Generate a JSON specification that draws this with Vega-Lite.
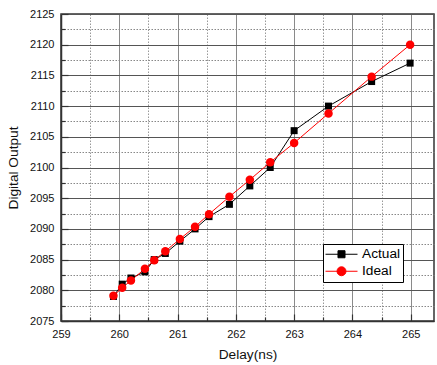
{
  "$schema": "https://vega.github.io/schema/vega-lite/v6.json",
  "width": 373,
  "height": 307,
  "autosize": {"type": "none"},
  "padding": {"left": 61, "top": 14, "right": 3, "bottom": 44},
  "background": "white",
  "config": {
    "font": "Liberation Sans",
    "view": {"stroke": "#333", "strokeWidth": 1.5},
    "axis": {
      "labelFont": "Liberation Sans",
      "titleFont": "Liberation Sans",
      "labelFontSize": 11,
      "titleFontSize": 13.7,
      "titleFontWeight": "normal",
      "labelColor": "#111",
      "titleColor": "#111",
      "domainColor": "#333",
      "domainWidth": 1.5,
      "tickColor": "#333",
      "tickWidth": 1.2
    }
  },
  "data": {
    "values": [
      {"series": "Actual", "delay": 259.90, "output": 2079},
      {"series": "Actual", "delay": 260.05, "output": 2081},
      {"series": "Actual", "delay": 260.20, "output": 2082},
      {"series": "Actual", "delay": 260.44, "output": 2083},
      {"series": "Actual", "delay": 260.60, "output": 2085},
      {"series": "Actual", "delay": 260.79, "output": 2086},
      {"series": "Actual", "delay": 261.04, "output": 2088},
      {"series": "Actual", "delay": 261.30, "output": 2090},
      {"series": "Actual", "delay": 261.54, "output": 2092},
      {"series": "Actual", "delay": 261.89, "output": 2094},
      {"series": "Actual", "delay": 262.24, "output": 2097},
      {"series": "Actual", "delay": 262.59, "output": 2100},
      {"series": "Actual", "delay": 263.00, "output": 2106},
      {"series": "Actual", "delay": 263.59, "output": 2110},
      {"series": "Actual", "delay": 264.33, "output": 2114},
      {"series": "Actual", "delay": 264.99, "output": 2117},
      {"series": "Ideal", "delay": 259.90, "output": 2079.1},
      {"series": "Ideal", "delay": 260.05, "output": 2080.4},
      {"series": "Ideal", "delay": 260.20, "output": 2081.6},
      {"series": "Ideal", "delay": 260.44, "output": 2083.5},
      {"series": "Ideal", "delay": 260.60, "output": 2084.9},
      {"series": "Ideal", "delay": 260.79, "output": 2086.35},
      {"series": "Ideal", "delay": 261.04, "output": 2088.35},
      {"series": "Ideal", "delay": 261.30, "output": 2090.35},
      {"series": "Ideal", "delay": 261.54, "output": 2092.4},
      {"series": "Ideal", "delay": 261.89, "output": 2095.25},
      {"series": "Ideal", "delay": 262.24, "output": 2098.0},
      {"series": "Ideal", "delay": 262.59, "output": 2100.85},
      {"series": "Ideal", "delay": 263.00, "output": 2104.0},
      {"series": "Ideal", "delay": 263.59, "output": 2108.8},
      {"series": "Ideal", "delay": 264.33, "output": 2114.8},
      {"series": "Ideal", "delay": 264.99, "output": 2120.0}
    ]
  },
  "encoding": {
    "x": {
      "field": "delay", "type": "quantitative",
      "scale": {"domain": [259, 265.4], "nice": false, "zero": false},
      "axis": {
        "title": "Delay(ns)",
        "values": [259, 259.5, 260, 260.5, 261, 261.5, 262, 262.5, 263, 263.5, 264, 264.5, 265],
        "format": ".0f",
        "labelExpr": "datum.value % 1 === 0 ? datum.label : ''",
        "grid": true,
        "gridColor": {"condition": {"test": "datum.value % 1 !== 0", "value": "#999"}, "value": "#8a8a8a"},
        "gridDash": {"condition": {"test": "datum.value % 1 !== 0", "value": [1.5, 1.5]}, "value": []},
        "gridWidth": 1,
        "tickSize": {"condition": {"test": "datum.value % 1 !== 0", "value": -4}, "value": -7},
        "labelPadding": 14,
        "titlePadding": 8,
        "labelFlush": false
      }
    },
    "y": {
      "field": "output", "type": "quantitative",
      "scale": {"domain": [2075, 2125], "nice": false, "zero": false},
      "axis": {
        "title": "Digital Output",
        "values": [2075, 2077.5, 2080, 2082.5, 2085, 2087.5, 2090, 2092.5, 2095, 2097.5, 2100, 2102.5, 2105, 2107.5, 2110, 2112.5, 2115, 2117.5, 2120, 2122.5, 2125],
        "format": ".0f",
        "labelExpr": "datum.value % 5 === 0 ? datum.label : ''",
        "grid": true,
        "gridColor": {"condition": {"test": "datum.value % 5 !== 0", "value": "#888"}, "value": "#555"},
        "gridDash": {"condition": {"test": "datum.value % 5 !== 0", "value": [1.5, 1.5]}, "value": []},
        "gridWidth": 1,
        "tickSize": {"condition": {"test": "datum.value % 5 !== 0", "value": -4}, "value": -7},
        "labelPadding": 14,
        "titlePadding": 9,
        "labelFlush": false
      }
    }
  },
  "layer": [
    {
      "mark": {"type": "line", "strokeWidth": 1},
      "encoding": {
        "color": {
          "field": "series", "type": "nominal",
          "scale": {"domain": ["Actual", "Ideal"], "range": ["#000000", "#ff0000"]},
          "legend": {
            "title": null,
            "orient": "none",
            "legendX": 262,
            "legendY": 230,
            "padding": 2,
            "strokeColor": "#000",
            "fillColor": "#fff",
            "symbolSize": 1024,
            "symbolStrokeWidth": 1,
            "clipHeight": 16.5,
            "rowPadding": 0,
            "labelFont": "Liberation Sans",
            "labelFontSize": 13.7,
            "labelColor": "#000",
            "labelOffset": 4,
            "encode": {
              "symbols": {
                "update": {
                  "shape": {"signal": "datum.value === 'Actual' ? 'M-1,0H1M-0.22,-0.22H0.22V0.22H-0.22Z' : 'M-1,0H1M0.28,0A0.28,0.28,0,1,1,-0.28,0A0.28,0.28,0,1,1,0.28,0Z'"},
                  "fill": {"signal": "scale('color', datum.value)"},
                  "stroke": {"signal": "scale('color', datum.value)"},
                  "strokeWidth": {"value": 1},
                  "size": {"value": 1024},
                  "opacity": {"value": 1},
                  "fillOpacity": {"value": 1}
                }
              }
            }
          }
        }
      }
    },
    {
      "transform": [{"filter": "datum.series === 'Actual'"}],
      "mark": {"type": "point", "shape": "square", "filled": true, "opacity": 1, "color": "#000000", "size": 49}
    },
    {
      "transform": [{"filter": "datum.series === 'Ideal'"}],
      "mark": {"type": "point", "shape": "circle", "filled": true, "opacity": 1, "color": "#ff0000", "size": 72}
    }
  ]
}
